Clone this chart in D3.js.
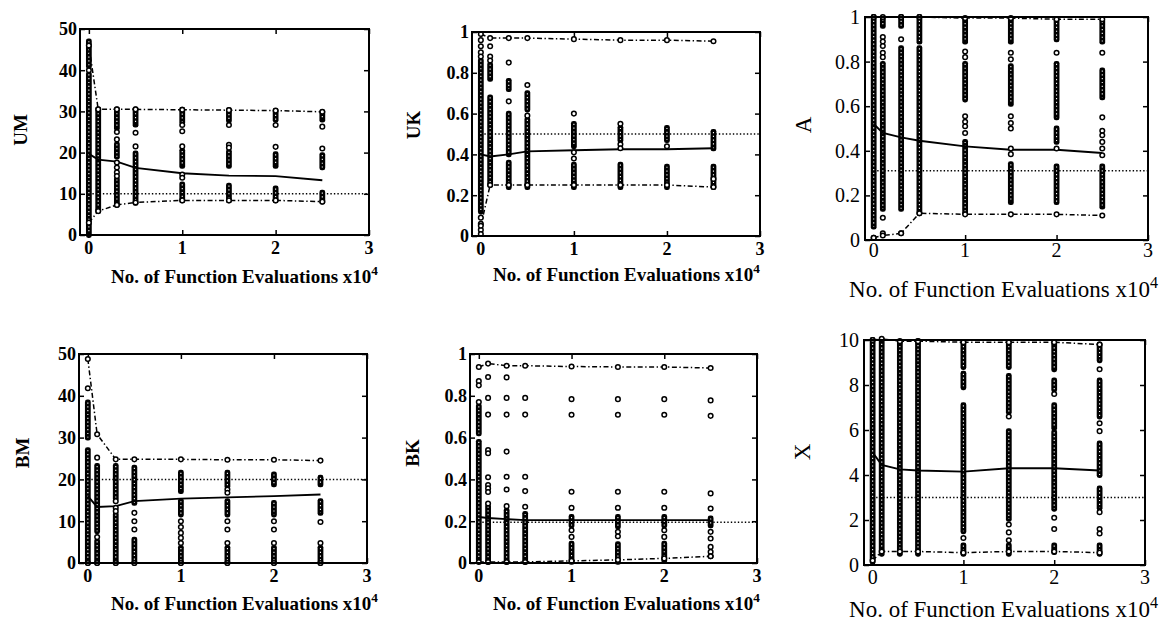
<!DOCTYPE html>
<html lang="en">
<head>
  <meta charset="UTF-8">
  <title>Parameter convergence</title>
  <script src="https://d3js.org/d3.v7.min.js"></script>
  <style>
    body { margin: 0; background: #fff; }
    #svgScene { width: 1160px; height: 626px; display: block; }
    .frame { fill: none; stroke: #000; stroke-width: 2; }
    .ticks line { stroke: #000; stroke-width: 1.5; }
    .ticks path { stroke-width: 0; }
  </style>
</head>
<body>
  <svg id="svgScene" width="1160" height="626"></svg>

  <script>
    // evaluation counts (x 10^4) at which the population was sampled
    const evalX = [0, 0.1, 0.3, 0.5, 1, 1.5, 2, 2.5];
    const xTicks = [0, 1, 2, 3];
    const xTitle = "No. of Function Evaluations x10";

    // ---- UM ----
    const umTicks = [0, 10, 20, 30, 40, 50];
    const umRuns = [
      [[0, 39], [41, 47]],
      [[5.8, 30.5]],
      [[26, 30.5], [19, 22], [7.3, 13.5]],
      [[26.8, 30.5], [7.8, 19.8]],
      [[27.5, 30.4], [16.8, 20.4], [8.4, 12.3]],
      [[27.8, 30.3], [16.8, 20.2], [8.4, 12]],
      [[28, 30.1], [16.8, 19.6], [8.4, 11.3]],
      [[28, 29.8], [16.4, 19.4], [8.1, 10.3]]
    ];
    const umDots = [
      [40],
      [],
      [25, 23.2, 17.6, 16.4, 15.2, 14.3],
      [24.8, 21.5],
      [26.7, 25.2, 21.5, 14.7, 13.9],
      [26.7, 21.9, 21.2],
      [26.7, 21.4],
      [26.3, 21]
    ];
    const umMean = [19.7, 18.3, 17.8, 16.3, 15.0, 14.4, 14.3, 13.3];
    const umMax = [46, 30.5, 30.5, 30.5, 30.4, 30.3, 30.2, 29.9];
    const umMin = [3, 5.8, 7.3, 7.9, 8.4, 8.4, 8.4, 8.1];
    const umTrue = 10;

    // ---- UK ----
    const ukTicks = [0, 0.2, 0.4, 0.6, 0.8, 1];
    const ukRuns = [
      [[0.12, 0.86]],
      [[0.25, 0.68], [0.77, 0.84]],
      [[0.72, 0.76], [0.4, 0.6], [0.24, 0.36]],
      [[0.62, 0.7], [0.24, 0.57]],
      [[0.44, 0.55], [0.24, 0.35]],
      [[0.47, 0.53], [0.24, 0.35]],
      [[0.47, 0.53], [0.24, 0.34]],
      [[0.43, 0.51], [0.24, 0.34]]
    ];
    const ukDots = [
      [0.96, 0.93, 0.9, 0.88, 0.09, 0.06, 0.03, 0.01],
      [0.93, 0.88, 0.86],
      [0.85, 0.66],
      [0.74, 0.59],
      [0.6, 0.41, 0.38],
      [0.55, 0.45, 0.43],
      [0.44],
      [0.28]
    ];
    const ukMean = [0.4, 0.39, 0.4, 0.415, 0.42, 0.425, 0.425, 0.43];
    const ukMax = [0.99, 0.97, 0.97, 0.97, 0.965, 0.96, 0.96, 0.955];
    const ukMin = [0.05, 0.25, 0.25, 0.25, 0.25, 0.25, 0.25, 0.24];
    const ukTrue = 0.5;

    // ---- A ----
    const aTicks = [0, 0.2, 0.4, 0.6, 0.8, 1];
    const aRuns = [
      [[0.06, 1]],
      [[0.96, 0.99], [0.14, 0.79]],
      [[0.96, 1], [0.14, 0.86]],
      [[0.89, 1], [0.12, 0.86]],
      [[0.89, 0.99], [0.63, 0.79], [0.12, 0.44]],
      [[0.89, 0.99], [0.61, 0.78], [0.17, 0.34]],
      [[0.9, 0.99], [0.55, 0.79], [0.44, 0.5], [0.17, 0.33]],
      [[0.89, 0.98], [0.64, 0.76], [0.15, 0.33]]
    ];
    const aDots = [
      [0.01],
      [0.91, 0.89, 0.87, 0.84, 0.82, 0.1, 0.03],
      [0.9, 0.03],
      [],
      [0.845, 0.82, 0.555, 0.53, 0.51, 0.48],
      [0.84, 0.81, 0.555, 0.525, 0.5, 0.41, 0.385],
      [0.84, 0.41],
      [0.84, 0.55, 0.49, 0.47, 0.44, 0.41, 0.38]
    ];
    const aMean = [0.52, 0.48, 0.46, 0.445, 0.42, 0.405, 0.405, 0.39];
    const aMax = [1, 1, 1, 1, 0.995, 0.995, 0.99, 0.99];
    const aMin = [0.01, 0.02, 0.03, 0.12, 0.115, 0.115, 0.115, 0.11];
    const aTrue = 0.31;

    // ---- BM ----
    const bmTicks = [0, 10, 20, 30, 40, 50];
    const bmRuns = [
      [[0, 27], [30, 38.4]],
      [[7.6, 23.2], [0, 5.2]],
      [[15.6, 23.2], [0, 11.6]],
      [[14.4, 22.8], [0, 5.6]],
      [[17.2, 21.6], [11.6, 14.8], [0, 3.6]],
      [[18.4, 21.6], [11.6, 14.8], [0, 3.6]],
      [[18.8, 21.2], [11.6, 14.4], [0, 3.6]],
      [[18.8, 20.4], [12, 14.8], [0, 3.6]]
    ];
    const bmDots = [
      [41.8],
      [25.2, 6.2],
      [14.8, 13.2, 12.4],
      [12, 10, 8],
      [10, 8.6, 7.2, 6, 4.8],
      [17.6, 16.8, 10, 8, 4.8],
      [10, 8, 4.8],
      [9.8, 4.8]
    ];
    const bmMean = [16, 13.4, 13.6, 14.8, 15.4, 15.7, 16.0, 16.4];
    const bmMax = [48.8, 30.8, 24.8, 24.8, 24.8, 24.7, 24.7, 24.5];
    const bmMin = [0, 0, 0, 0, 0, 0, 0, 0];
    const bmTrue = 20;

    // ---- BK ----
    const bkTicks = [0, 0.2, 0.4, 0.6, 0.8, 1];
    const bkRuns = [
      [[0.02, 0.58], [0.62, 0.75]],
      [[0.005, 0.27]],
      [[0.005, 0.25]],
      [[0.005, 0.235]],
      [[0.18, 0.22], [0.005, 0.093]],
      [[0.175, 0.22], [0.005, 0.09]],
      [[0.18, 0.22], [0.013, 0.093]],
      [[0.18, 0.213]]
    ];
    const bkDots = [
      [0.87, 0.85, 0.77],
      [0.89, 0.79, 0.71, 0.54, 0.525, 0.41, 0.373, 0.357, 0.34, 0.285],
      [0.888, 0.79, 0.71, 0.533, 0.413, 0.352, 0.272],
      [0.79, 0.71, 0.413, 0.344, 0.269],
      [0.784, 0.709, 0.341, 0.264, 0.157, 0.125],
      [0.784, 0.709, 0.341, 0.264, 0.149, 0.128],
      [0.784, 0.709, 0.341, 0.264, 0.157, 0.125],
      [0.778, 0.704, 0.333, 0.261, 0.149, 0.117, 0.077, 0.053, 0.032]
    ];
    const bkMean = [0.22, 0.215, 0.21, 0.205, 0.205, 0.205, 0.205, 0.205];
    const bkMax = [0.938, 0.954, 0.944, 0.944, 0.94, 0.938, 0.938, 0.933];
    const bkMin = [0.005, 0.005, 0.005, 0.005, 0.01, 0.015, 0.022, 0.032];
    const bkTrue = 0.195;

    // ---- X ----
    const xxTicks = [0, 2, 4, 6, 8, 10];
    const xxRuns = [
      [[0.15, 10]],
      [[0.5, 10]],
      [[0.5, 9.9]],
      [[0.5, 9.95]],
      [[8.8, 9.9], [7.9, 8.5], [1.5, 7.1], [0.5, 0.87]],
      [[8.8, 9.9], [6.8, 8.4], [2.05, 5.95], [0.5, 0.87]],
      [[8.7, 9.85], [7.8, 8.2], [6.1, 7.1], [2.5, 5.9], [0.57, 0.87]],
      [[9.1, 9.8], [6.6, 8.2], [4.0, 5.4], [2.55, 3.4], [0.5, 0.87]]
    ];
    const xxDots = [
      [],
      [],
      [],
      [],
      [1.2],
      [6.6, 1.8, 1.45, 1.1],
      [7.6, 2.1, 1.6],
      [8.7, 6.3, 5.95, 2.35, 1.6, 1.4]
    ];
    const xxMean = [5.0, 4.45, 4.25, 4.2, 4.15, 4.3, 4.3, 4.2];
    const xxMax = [10, 10.05, 9.95, 9.95, 9.9, 9.9, 9.9, 9.8];
    const xxMin = [0.2, 0.6, 0.6, 0.6, 0.55, 0.6, 0.6, 0.55];
    const xxTrue = 3;

    // panel layout: box = [left, top, right, bottom]
    const panels = [
      { label: "UM", ticks: umTicks, runs: umRuns, dots: umDots, mean: umMean, max: umMax, min: umMin, truth: umTrue,
        box: [80, 29, 369, 235], yLab: [20, 130], tickGap: 19, titleAt: [378, 283], style: "bold" },
      { label: "UK", ticks: ukTicks, runs: ukRuns, dots: ukDots, mean: ukMean, max: ukMax, min: ukMin, truth: ukTrue,
        box: [472, 32, 760, 236], yLab: [413, 125], tickGap: 19, titleAt: [760, 281], style: "bold" },
      { label: "A", ticks: aTicks, runs: aRuns, dots: aDots, mean: aMean, max: aMax, min: aMin, truth: aTrue,
        box: [865, 17, 1148, 240], yLab: [803, 125], tickGap: 17, titleAt: [1158, 297], style: "plain" },
      { label: "BM", ticks: bmTicks, runs: bmRuns, dots: bmDots, mean: bmMean, max: bmMax, min: bmMin, truth: bmTrue,
        box: [79, 354, 367, 563], yLab: [22, 453], tickGap: 19, titleAt: [378, 610], style: "bold" },
      { label: "BK", ticks: bkTicks, runs: bkRuns, dots: bkDots, mean: bkMean, max: bkMax, min: bkMin, truth: bkTrue,
        box: [470, 354, 757, 563], yLab: [412, 453], tickGap: 19, titleAt: [760, 610], style: "bold" },
      { label: "X", ticks: xxTicks, runs: xxRuns, dots: xxDots, mean: xxMean, max: xxMax, min: xxMin, truth: xxTrue,
        box: [864, 340, 1145, 565], yLab: [802, 452], tickGap: 19, titleAt: [1158, 617], style: "plain" }
    ];

    const fonts = {
      bold:  { weight: "bold",   tick: 18, title: 19, label: 19, yGap: 3 },
      plain: { weight: "normal", tick: 20, title: 23, label: 23, yGap: 5 }
    };

    const svgScene = d3.select("#svgScene");
    const tickLen = 5;
    const dotR = 2.3;

    panels.forEach(drawPanel);

    function drawPanel(p) {
      const [left, top, right, bottom] = p.box;
      const f = fonts[p.style];
      const g = svgScene.append("g")
        .attr("font-family", "'Liberation Serif', 'Times New Roman', serif")
        .attr("font-weight", f.weight);

      const xScale = d3.scaleLinear().domain([-0.095, 3]).range([left, right]);
      const yScale = d3.scaleLinear().domain([0, d3.max(p.ticks)]).range([bottom, top]);

      // inward ticks on all four sides
      g.append("g").attr("class", "ticks")
        .attr("transform", `translate(0,${bottom})`)
        .call(d3.axisBottom(xScale).tickValues(xTicks).tickSize(-tickLen).tickFormat(""));
      g.append("g").attr("class", "ticks")
        .attr("transform", `translate(0,${top})`)
        .call(d3.axisTop(xScale).tickValues(xTicks).tickSize(-tickLen).tickFormat(""));
      g.append("g").attr("class", "ticks")
        .attr("transform", `translate(${left},0)`)
        .call(d3.axisLeft(yScale).tickValues(p.ticks).tickSize(-tickLen).tickFormat(""));
      g.append("g").attr("class", "ticks")
        .attr("transform", `translate(${right},0)`)
        .call(d3.axisRight(yScale).tickValues(p.ticks).tickSize(-tickLen).tickFormat(""));

      // tick labels
      g.selectAll(".xlab").data(xTicks).join("text")
        .attr("x", d => xScale(d))
        .attr("y", bottom + p.tickGap)
        .attr("text-anchor", "middle")
        .attr("font-size", f.tick)
        .text(d => d);
      g.selectAll(".ylab").data(p.ticks).join("text")
        .attr("x", left - f.yGap)
        .attr("y", d => yScale(d))
        .attr("dy", "0.35em")
        .attr("text-anchor", "end")
        .attr("font-size", f.tick)
        .text(d => d);

      // true value (dotted)
      g.append("line")
        .attr("x1", xScale(0)).attr("x2", xScale(3))
        .attr("y1", yScale(p.truth)).attr("y2", yScale(p.truth))
        .attr("stroke", "#000").attr("stroke-width", 1.5)
        .attr("stroke-dasharray", "1.4,2.1");

      // dense clusters of overlapping open markers: dark bar with a speckled core
      p.runs.forEach((col, i) => {
        const cx = xScale(evalX[i]);
        g.selectAll(null).data(col).join("rect")
          .attr("x", cx - dotR - 0.6)
          .attr("width", 2 * dotR + 1.2)
          .attr("y", d => yScale(d[1]) - dotR - 0.6)
          .attr("height", d => yScale(d[0]) - yScale(d[1]) + 2 * dotR + 1.2)
          .attr("rx", dotR)
          .attr("fill", "#000");
        g.selectAll(null).data(col).join("line")
          .attr("x1", cx).attr("x2", cx)
          .attr("y1", d => yScale(d[1]))
          .attr("y2", d => yScale(d[0]))
          .attr("stroke", "#fff").attr("stroke-width", 1.1)
          .attr("stroke-dasharray", "1.2,2.6");
      });

      // max / min envelopes (dash-dot)
      const line = d3.line().x((d, i) => xScale(evalX[i])).y(d => yScale(d));
      [p.max, p.min].forEach(env => {
        g.append("path")
          .attr("d", line(env))
          .attr("fill", "none")
          .attr("stroke", "#000").attr("stroke-width", 1.5)
          .attr("stroke-dasharray", "5,2.5,1.4,2.5");
      });

      // mean (solid)
      g.append("path")
        .attr("d", line(p.mean))
        .attr("fill", "none")
        .attr("stroke", "#000").attr("stroke-width", 1.9);

      // single markers
      const singles = [];
      p.dots.forEach((col, i) => col.forEach(v => singles.push([evalX[i], v])));
      p.max.forEach((v, i) => singles.push([evalX[i], v]));
      p.min.forEach((v, i) => singles.push([evalX[i], v]));
      g.selectAll(null).data(singles).join("circle")
        .attr("cx", d => xScale(d[0]))
        .attr("cy", d => yScale(d[1]))
        .attr("r", dotR)
        .attr("fill", "#fff")
        .attr("stroke", "#000").attr("stroke-width", 1.5);

      // frame
      g.append("rect").attr("class", "frame")
        .attr("x", left).attr("y", top)
        .attr("width", right - left).attr("height", bottom - top);

      // axis titles
      const t = g.append("text")
        .attr("x", p.titleAt[0]).attr("y", p.titleAt[1])
        .attr("text-anchor", "end")
        .attr("font-size", f.title)
        .text(xTitle);
      t.append("tspan")
        .attr("dy", -f.title * 0.4)
        .attr("font-size", f.title * 0.7)
        .text("4");

      g.append("text")
        .attr("transform", `translate(${p.yLab[0]},${p.yLab[1]}) rotate(-90)`)
        .attr("text-anchor", "middle")
        .attr("dy", "0.35em")
        .attr("font-size", f.label)
        .text(p.label);
    }
  </script>
</body>
</html>
